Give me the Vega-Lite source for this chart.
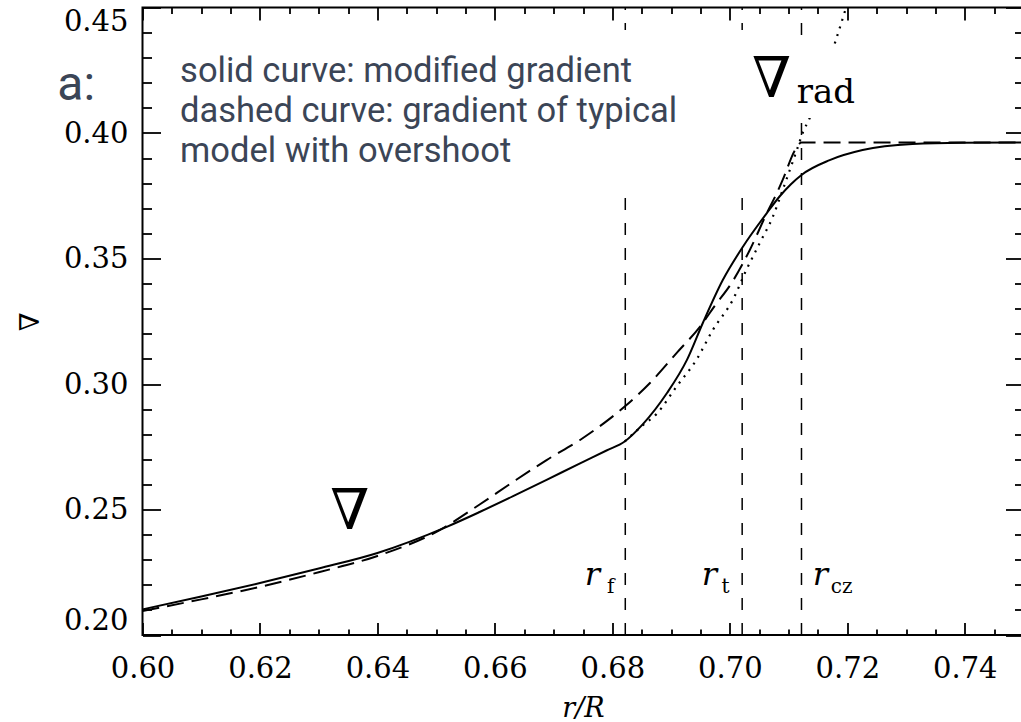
{
  "$schema": "https://vega.github.io/schema/vega-lite/v6.json",
  "width": 881,
  "height": 627.5,
  "autosize": {"type": "none"},
  "padding": {"left": 142.5, "top": 7.5, "right": 0, "bottom": 87},
  "background": "white",
  "config": {
    "view": {"stroke": "black", "strokeWidth": 2},
    "axis": {
      "grid": false,
      "domain": false,
      "tickColor": "black",
      "tickWidth": 1.8,
      "labelFont": "DejaVu Serif",
      "labelFontSize": 29,
      "labelColor": "black",
      "labelOverlap": false,
      "titleColor": "black",
      "titleFontWeight": "normal"
    }
  },
  "datasets": {
    "solid": [
      {"x": 0.600, "y": 0.2102}, {"x": 0.610, "y": 0.2153}, {"x": 0.620, "y": 0.2207},
      {"x": 0.630, "y": 0.2265}, {"x": 0.640, "y": 0.2327}, {"x": 0.6518, "y": 0.2431},
      {"x": 0.6574, "y": 0.2490}, {"x": 0.6631, "y": 0.2553}, {"x": 0.6688, "y": 0.2618},
      {"x": 0.6745, "y": 0.2684}, {"x": 0.6790, "y": 0.2735}, {"x": 0.6821, "y": 0.2771},
      {"x": 0.6852, "y": 0.2840}, {"x": 0.6893, "y": 0.2964}, {"x": 0.6927, "y": 0.3096},
      {"x": 0.6954, "y": 0.3243}, {"x": 0.6988, "y": 0.3414}, {"x": 0.7022, "y": 0.3546},
      {"x": 0.7063, "y": 0.3681}, {"x": 0.7085, "y": 0.3748}, {"x": 0.7104, "y": 0.3796},
      {"x": 0.7122, "y": 0.3833}, {"x": 0.7170, "y": 0.3892}, {"x": 0.7226, "y": 0.3932},
      {"x": 0.7311, "y": 0.3956}, {"x": 0.7396, "y": 0.3961}, {"x": 0.7500, "y": 0.3962}
    ],
    "dashed": [
      {"x": 0.600, "y": 0.2096}, {"x": 0.610, "y": 0.2142}, {"x": 0.620, "y": 0.2192},
      {"x": 0.630, "y": 0.2250}, {"x": 0.640, "y": 0.2315}, {"x": 0.6506, "y": 0.2418},
      {"x": 0.6574, "y": 0.2520}, {"x": 0.6631, "y": 0.2610}, {"x": 0.6688, "y": 0.2697},
      {"x": 0.6745, "y": 0.2777}, {"x": 0.6793, "y": 0.2857}, {"x": 0.6821, "y": 0.2910},
      {"x": 0.6864, "y": 0.3004}, {"x": 0.6910, "y": 0.3125}, {"x": 0.6949, "y": 0.3228},
      {"x": 0.6974, "y": 0.3310}, {"x": 0.7005, "y": 0.3410}, {"x": 0.7034, "y": 0.3534},
      {"x": 0.7063, "y": 0.3681}, {"x": 0.7080, "y": 0.3761}, {"x": 0.7090, "y": 0.3813},
      {"x": 0.7111, "y": 0.3932}, {"x": 0.7122, "y": 0.3962}, {"x": 0.7500, "y": 0.3962}
    ],
    "dotted": [
      {"x": 0.6821, "y": 0.2771}, {"x": 0.6852, "y": 0.2836}, {"x": 0.6875, "y": 0.2880},
      {"x": 0.6909, "y": 0.2989}, {"x": 0.6943, "y": 0.3096}, {"x": 0.6971, "y": 0.3215},
      {"x": 0.7005, "y": 0.3335}, {"x": 0.7028, "y": 0.3454}, {"x": 0.7051, "y": 0.3562},
      {"x": 0.7073, "y": 0.3665}, {"x": 0.7090, "y": 0.3773}, {"x": 0.7114, "y": 0.3932},
      {"x": 0.7124, "y": 0.4000}, {"x": 0.7136, "y": 0.4060}, {"x": 0.7179, "y": 0.4359},
      {"x": 0.7198, "y": 0.4500}
    ],
    "radii": [
      {"name": "r_f", "x": 0.6822, "y": 0.20, "y2": 0.45},
      {"name": "r_t", "x": 0.7021, "y": 0.20, "y2": 0.45},
      {"name": "r_cz", "x": 0.7122, "y": 0.20, "y2": 0.45}
    ],
    "boxes": [
      {"x": 0.6035, "x2": 0.7051, "y": 0.3765, "y2": 0.4410},
      {"x": 0.7031, "x2": 0.7352, "y": 0.4060, "y2": 0.4351}
    ],
    "notes": [
      {"text": "solid curve: modified gradient", "x": 0.6064, "y": 0.4203},
      {"text": "dashed curve: gradient of typical", "x": 0.6064, "y": 0.4044},
      {"text": "model with overshoot", "x": 0.6064, "y": 0.3885}
    ],
    "panel": [{"text": "a:", "x": 0.5855, "y": 0.4131}],
    "nablas": [
      {"text": "∇", "x": 0.6353, "y": 0.2422},
      {"text": "∇", "x": 0.7071, "y": 0.4143}
    ],
    "rad": [{"text": "rad", "x": 0.7114, "y": 0.4120}],
    "rletters": [
      {"text": "r", "x": 0.6753, "y": 0.2199},
      {"text": "r", "x": 0.6952, "y": 0.2199},
      {"text": "r", "x": 0.7141, "y": 0.2199}
    ],
    "rsubs": [
      {"text": "f", "x": 0.6791, "y": 0.2167},
      {"text": "t", "x": 0.6986, "y": 0.2167},
      {"text": "cz", "x": 0.7172, "y": 0.2167}
    ]
  },
  "resolve": {"axis": {"x": "independent", "y": "independent"}},
  "layer": [
    {
      "data": {"name": "radii"},
      "mark": {"type": "rule", "color": "black", "strokeWidth": 1.5, "strokeDash": [12, 13]},
      "encoding": {
        "x": {
          "field": "x", "type": "quantitative",
          "scale": {"domain": [0.60, 0.75], "nice": false, "zero": false},
          "axis": {
            "orient": "bottom",
            "values": [0.60, 0.62, 0.64, 0.66, 0.68, 0.70, 0.72, 0.74],
            "format": ".2f",
            "tickSize": -12.5,
            "labelPadding": 32,
            "labelFlush": false,
            "title": "r/R",
            "titleFont": "DejaVu Serif",
            "titleFontStyle": "italic",
            "titleFontSize": 27,
            "titlePadding": 12
          }
        },
        "y": {
          "field": "y", "type": "quantitative",
          "scale": {"domain": [0.20, 0.45], "nice": false, "zero": false},
          "axis": {
            "orient": "left",
            "values": [0.20, 0.25, 0.30, 0.35, 0.40, 0.45],
            "format": ".2f",
            "tickSize": -18,
            "labelPadding": 32.5,
            "labelFlush": true,
            "title": "∇",
            "titleFont": "DejaVu Serif",
            "titleFontSize": 27,
            "titlePadding": 19
          }
        },
        "y2": {"field": "y2"}
      }
    },
    {
      "data": {"name": "solid"},
      "mark": {"type": "line", "color": "black", "strokeWidth": 2, "interpolate": "monotone", "clip": true},
      "encoding": {
        "x": {
          "field": "x", "type": "quantitative",
          "scale": {"domain": [0.60, 0.75], "nice": false, "zero": false},
          "axis": {
            "orient": "bottom",
            "values": [0.605, 0.61, 0.615, 0.625, 0.63, 0.635, 0.645, 0.65, 0.655, 0.665, 0.67, 0.675, 0.685, 0.69, 0.695, 0.705, 0.71, 0.715, 0.725, 0.73, 0.735, 0.745],
            "tickSize": -6,
            "labels": false,
            "title": null
          }
        },
        "y": {
          "field": "y", "type": "quantitative",
          "scale": {"domain": [0.20, 0.45], "nice": false, "zero": false},
          "axis": {
            "orient": "left",
            "values": [0.21, 0.22, 0.23, 0.24, 0.26, 0.27, 0.28, 0.29, 0.31, 0.32, 0.33, 0.34, 0.36, 0.37, 0.38, 0.39, 0.41, 0.42, 0.43, 0.44],
            "tickSize": -9,
            "labels": false,
            "title": null
          }
        }
      }
    },
    {
      "data": {"name": "dashed"},
      "mark": {"type": "line", "color": "black", "strokeWidth": 2, "strokeDash": [17, 8], "interpolate": "monotone", "clip": true},
      "encoding": {
        "x": {
          "field": "x", "type": "quantitative",
          "scale": {"domain": [0.60, 0.75], "nice": false, "zero": false},
          "axis": {
            "orient": "top",
            "values": [0.60, 0.62, 0.64, 0.66, 0.68, 0.70, 0.72, 0.74],
            "tickSize": -12.5,
            "labels": false,
            "title": null
          }
        },
        "y": {
          "field": "y", "type": "quantitative",
          "scale": {"domain": [0.20, 0.45], "nice": false, "zero": false},
          "axis": {
            "orient": "right",
            "values": [0.20, 0.25, 0.30, 0.35, 0.40, 0.45],
            "tickSize": -18,
            "labels": false,
            "title": null
          }
        }
      }
    },
    {
      "data": {"name": "dotted"},
      "mark": {"type": "line", "color": "black", "strokeWidth": 2.2, "strokeDash": [2, 6], "interpolate": "monotone", "clip": true},
      "encoding": {
        "x": {
          "field": "x", "type": "quantitative",
          "scale": {"domain": [0.60, 0.75], "nice": false, "zero": false},
          "axis": {
            "orient": "top",
            "values": [0.605, 0.61, 0.615, 0.625, 0.63, 0.635, 0.645, 0.65, 0.655, 0.665, 0.67, 0.675, 0.685, 0.69, 0.695, 0.705, 0.71, 0.715, 0.725, 0.73, 0.735, 0.745],
            "tickSize": -6,
            "labels": false,
            "title": null
          }
        },
        "y": {
          "field": "y", "type": "quantitative",
          "scale": {"domain": [0.20, 0.45], "nice": false, "zero": false},
          "axis": {
            "orient": "right",
            "values": [0.21, 0.22, 0.23, 0.24, 0.26, 0.27, 0.28, 0.29, 0.31, 0.32, 0.33, 0.34, 0.36, 0.37, 0.38, 0.39, 0.41, 0.42, 0.43, 0.44],
            "tickSize": -9,
            "labels": false,
            "title": null
          }
        }
      }
    },
    {
      "data": {"name": "boxes"},
      "mark": {"type": "rect", "color": "white", "opacity": 1},
      "encoding": {
        "x": {"field": "x", "type": "quantitative", "scale": {"domain": [0.60, 0.75], "nice": false, "zero": false}, "axis": null},
        "x2": {"field": "x2"},
        "y": {"field": "y", "type": "quantitative", "scale": {"domain": [0.20, 0.45], "nice": false, "zero": false}, "axis": null},
        "y2": {"field": "y2"}
      }
    },
    {
      "data": {"name": "notes"},
      "mark": {"type": "text", "font": "Roboto", "fontSize": 34.5, "color": "#3b4556", "align": "left", "baseline": "alphabetic"},
      "encoding": {
        "x": {"field": "x", "type": "quantitative", "scale": {"domain": [0.60, 0.75], "nice": false, "zero": false}, "axis": null},
        "y": {"field": "y", "type": "quantitative", "scale": {"domain": [0.20, 0.45], "nice": false, "zero": false}, "axis": null},
        "text": {"field": "text"}
      }
    },
    {
      "data": {"name": "panel"},
      "mark": {"type": "text", "font": "Roboto", "fontSize": 48, "color": "#3b4556", "align": "left", "baseline": "alphabetic"},
      "encoding": {
        "x": {"field": "x", "type": "quantitative", "scale": {"domain": [0.60, 0.75], "nice": false, "zero": false}, "axis": null},
        "y": {"field": "y", "type": "quantitative", "scale": {"domain": [0.20, 0.45], "nice": false, "zero": false}, "axis": null},
        "text": {"field": "text"}
      }
    },
    {
      "data": {"name": "nablas"},
      "mark": {"type": "text", "font": "DejaVu Serif", "fontSize": 56, "color": "black", "align": "center", "baseline": "alphabetic"},
      "encoding": {
        "x": {"field": "x", "type": "quantitative", "scale": {"domain": [0.60, 0.75], "nice": false, "zero": false}, "axis": null},
        "y": {"field": "y", "type": "quantitative", "scale": {"domain": [0.20, 0.45], "nice": false, "zero": false}, "axis": null},
        "text": {"field": "text"}
      }
    },
    {
      "data": {"name": "rad"},
      "mark": {"type": "text", "font": "DejaVu Serif", "fontSize": 34, "color": "black", "align": "left", "baseline": "alphabetic"},
      "encoding": {
        "x": {"field": "x", "type": "quantitative", "scale": {"domain": [0.60, 0.75], "nice": false, "zero": false}, "axis": null},
        "y": {"field": "y", "type": "quantitative", "scale": {"domain": [0.20, 0.45], "nice": false, "zero": false}, "axis": null},
        "text": {"field": "text"}
      }
    },
    {
      "data": {"name": "rletters"},
      "mark": {"type": "text", "font": "DejaVu Serif", "fontStyle": "italic", "fontSize": 32, "color": "black", "align": "left", "baseline": "alphabetic"},
      "encoding": {
        "x": {"field": "x", "type": "quantitative", "scale": {"domain": [0.60, 0.75], "nice": false, "zero": false}, "axis": null},
        "y": {"field": "y", "type": "quantitative", "scale": {"domain": [0.20, 0.45], "nice": false, "zero": false}, "axis": null},
        "text": {"field": "text"}
      }
    },
    {
      "data": {"name": "rsubs"},
      "mark": {"type": "text", "font": "DejaVu Serif", "fontSize": 20, "color": "black", "align": "left", "baseline": "alphabetic"},
      "encoding": {
        "x": {"field": "x", "type": "quantitative", "scale": {"domain": [0.60, 0.75], "nice": false, "zero": false}, "axis": null},
        "y": {"field": "y", "type": "quantitative", "scale": {"domain": [0.20, 0.45], "nice": false, "zero": false}, "axis": null},
        "text": {"field": "text"}
      }
    }
  ]
}
